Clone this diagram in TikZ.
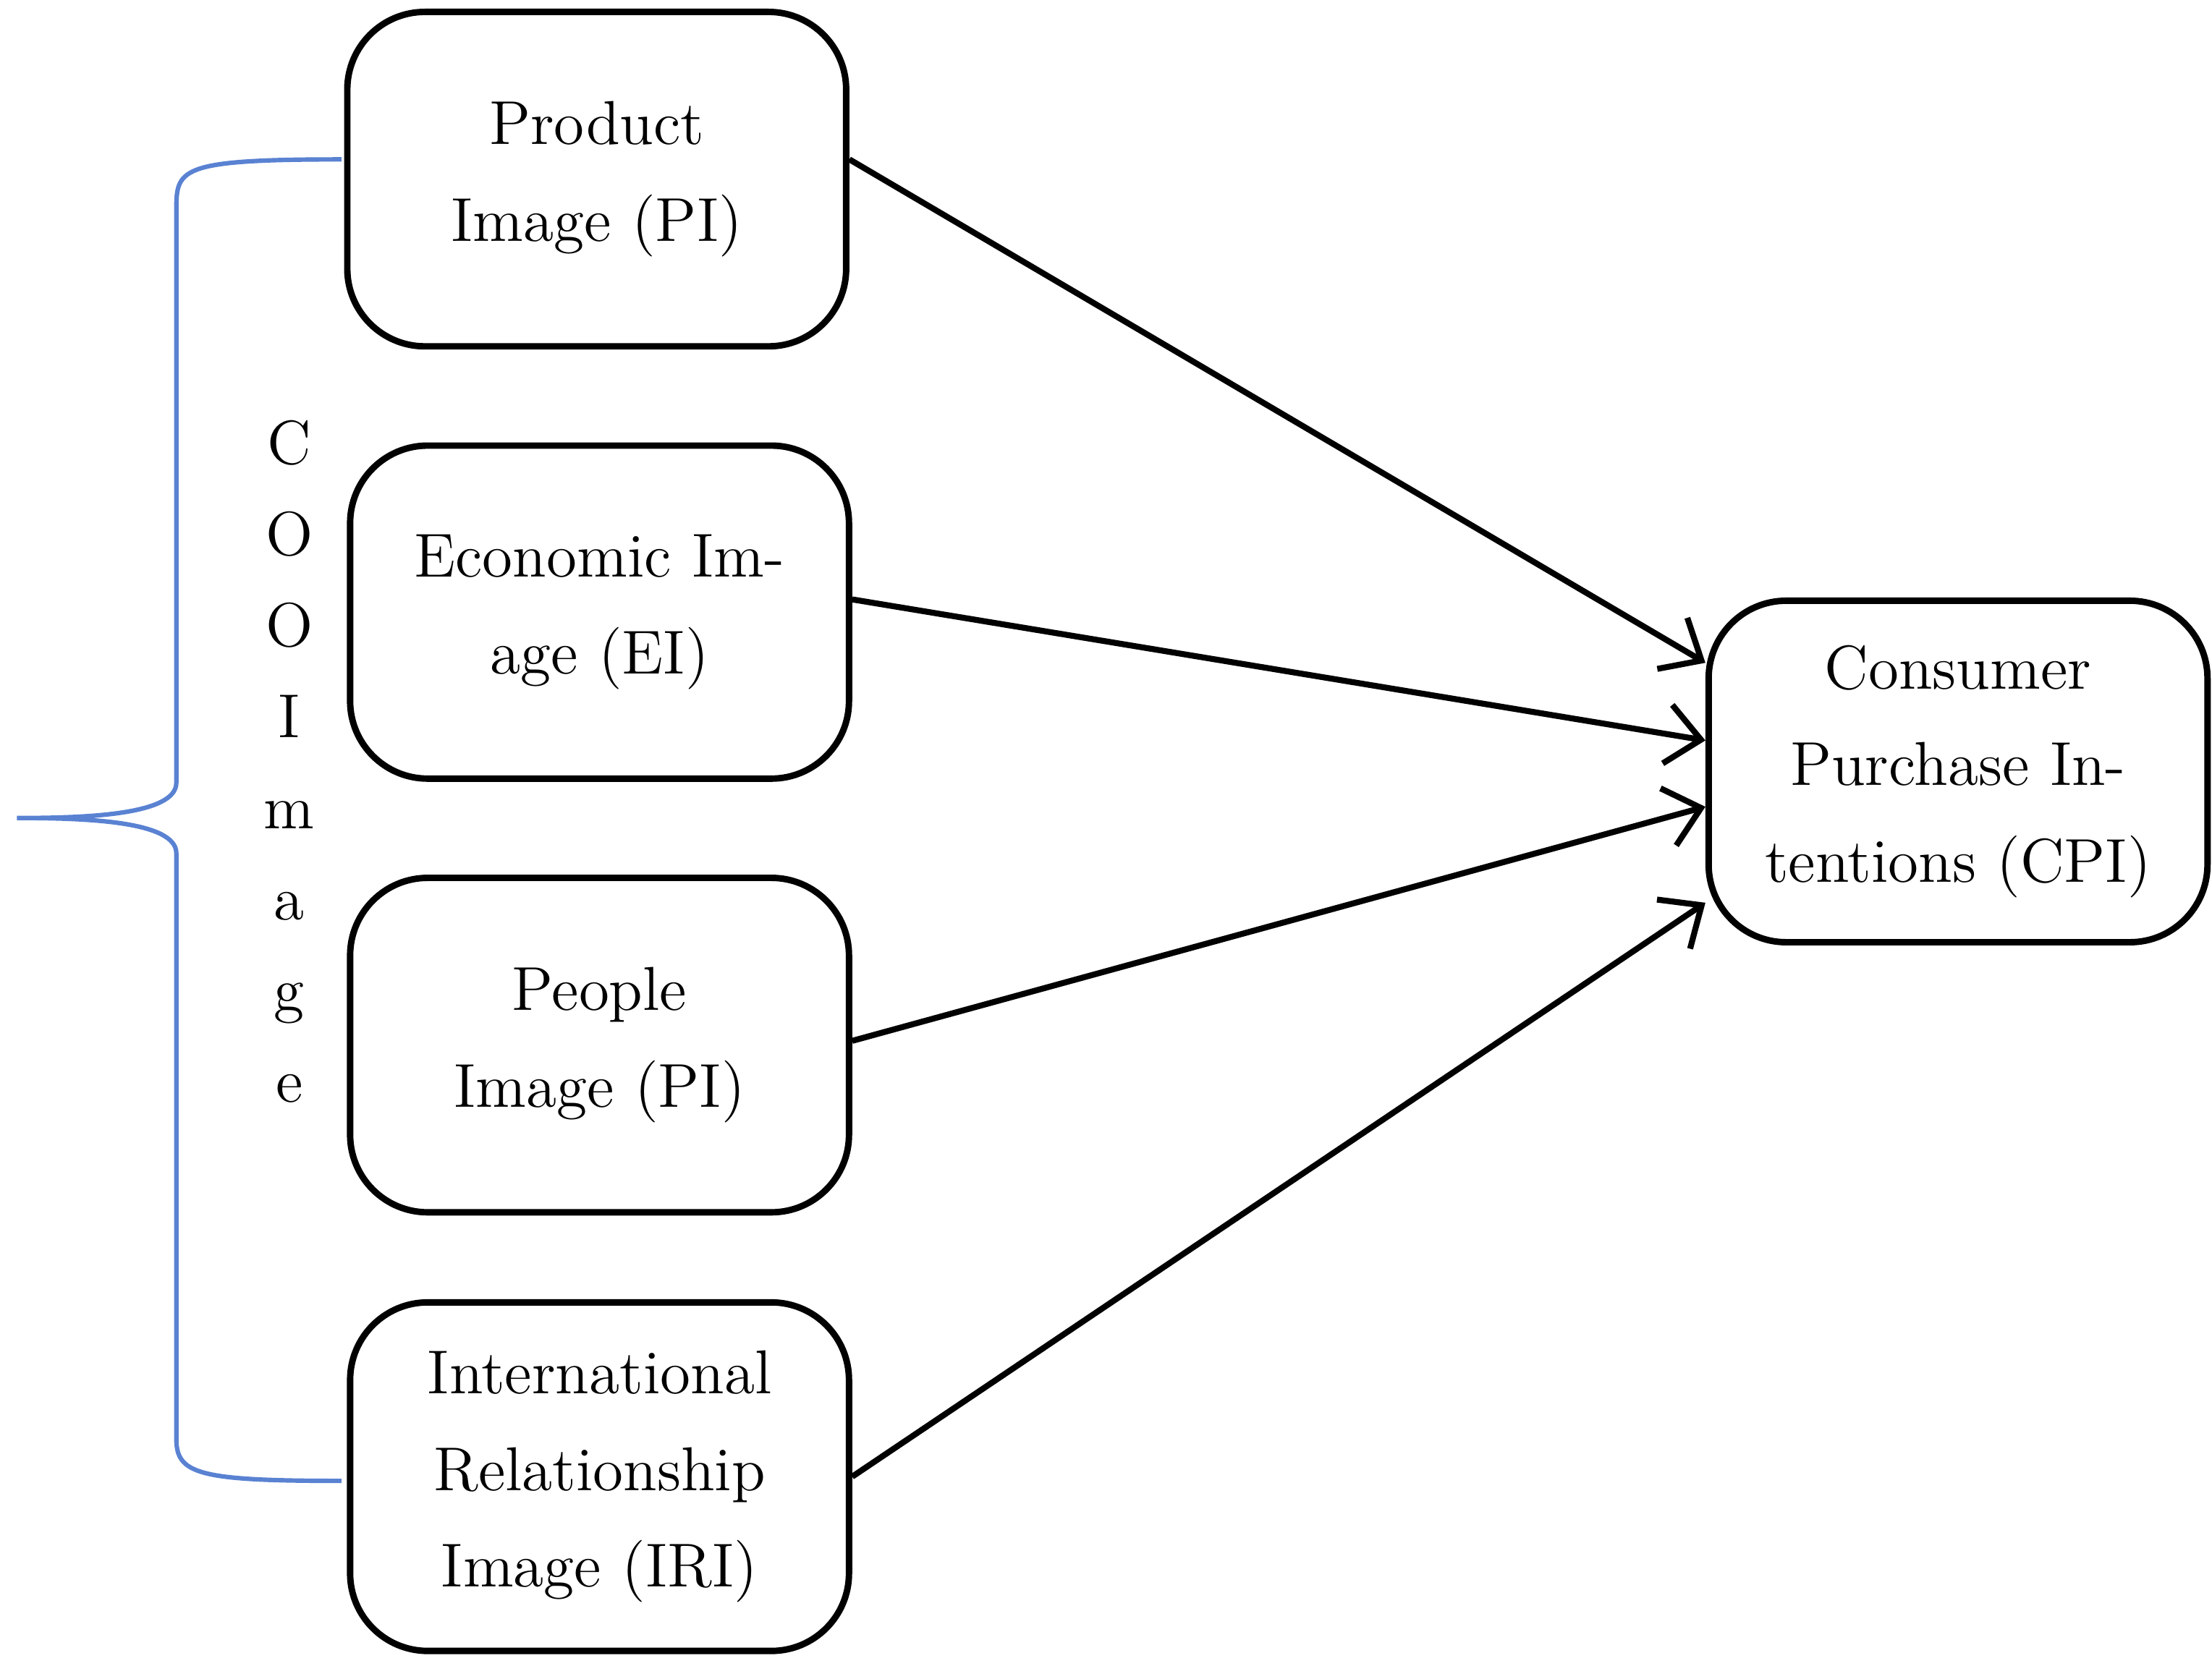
\documentclass[tikz,border=0pt]{standalone}
\usepackage{tikz}
\usetikzlibrary{arrows.meta,positioning}

\begin{document}
\begin{tikzpicture}[x=0.01cm,y=-0.01cm,
   box/.style={draw,line width=1.3pt,rounded corners=0.55cm,minimum width=3.4cm,
               text width=3.3cm,align=center,font=\fontsize{12.5}{19.5}\selectfont},
   link/.style={line width=1.2pt,-{Straight Barb[length=2.4mm,width=4.2mm,line width=1.2pt]}},
   brace/.style={draw={rgb,255:red,90;green,130;blue,210},line width=0.9pt}]
   \useasboundingbox (0,0) rectangle (1568,1181);
   \node[box,minimum height=2.37cm] (pi)  at (423,127)  {Product\\ Image (PI)\\[-0.2cm]};
   \node[box,minimum height=2.36cm] (ei)  at (425,434)  {Economic Im-\\ age (EI)\\[-0.2cm]};
   \node[box,minimum height=2.37cm] (ppi) at (425,741)  {People\\ Image (PI)\\[-0.2cm]};
   \node[box,minimum height=2.47cm] (iri) at (425,1047) {International\\ Relationship\\ Image (IRI)};
   \node[box,minimum height=2.42cm] (cpi) at (1388,547) {Consumer\\ Purchase In-\\ tentions (CPI)};
   \node[font=\fontsize{12.5}{19.5}\selectfont,align=center] (coo) at (205,540)
        {C\\[-0.04cm] O\\[-0.04cm] O\\[-0.04cm] I\\[-0.04cm] m\\[-0.04cm] a\\[-0.04cm] g\\[-0.04cm] e};
   % arrows into the outcome
   \draw[link] ([yshift=0.14cm]pi.east)  -- ([yshift=0.77cm]cpi.west);
   \draw[link] ([yshift=0.09cm]ei.east)  -- ([yshift=0.22cm]cpi.west);
   \draw[link] ([yshift=0.03cm]ppi.east) -- ([yshift=-0.25cm]cpi.west);
   \draw[link] (iri.east) -- ([yshift=-0.93cm]cpi.west);
   % brace
   \coordinate (btop) at (242,113);
   \coordinate (bbot) at (242,1050);
   \coordinate (btip) at (12,580);
   \path[brace] (btop) .. controls (125,113) and (125,120) .. (125,150) -- (125,555)
      .. controls (125,578) and (60,580) .. (btip)
      .. controls (60,580) and (125,582) .. (125,605) -- (125,1020)
      .. controls (125,1045) and (140,1050) .. (bbot);
\end{tikzpicture}
\end{document}
